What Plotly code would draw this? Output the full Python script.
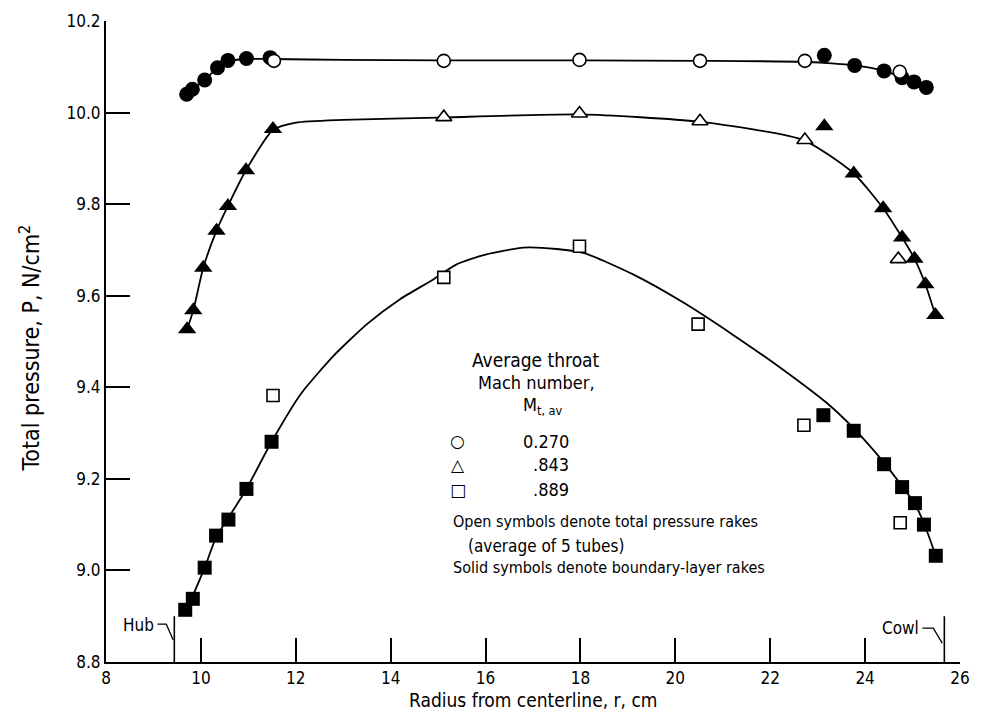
import plotly.graph_objects as go

# ---------------- data ----------------
# M = 0.270 (circles)
circ_open_r = [11.54, 15.12, 17.98, 20.52, 22.73, 24.73]
circ_open_p = [10.113, 10.113, 10.115, 10.113, 10.113, 10.089]
circ_solid_r = [9.70, 9.82, 10.08, 10.35, 10.57, 10.96, 11.46, 23.14, 23.78, 24.40, 24.78, 25.03, 25.29]
circ_solid_p = [10.040, 10.051, 10.071, 10.098, 10.114, 10.118, 10.120, 10.125, 10.103, 10.091, 10.076, 10.067, 10.055]
circ_curve_r = [9.70, 9.82, 10.08, 10.35, 10.57, 10.96, 11.5, 13.0, 15.0, 18.0, 20.5, 22.7, 23.2, 23.78, 24.40, 24.78, 25.03, 25.29]
circ_curve_p = [10.040, 10.051, 10.071, 10.098, 10.112, 10.117, 10.117, 10.115, 10.114, 10.114, 10.113, 10.111, 10.108, 10.103, 10.091, 10.077, 10.067, 10.055]

# M = 0.843 (triangles)
tri_open_r = [15.12, 17.98, 20.52, 22.73, 24.70]
tri_open_p = [9.990, 9.998, 9.981, 9.940, 9.680]
tri_solid_r = [9.71, 9.84, 10.05, 10.33, 10.57, 10.95, 11.52, 23.14, 23.76, 24.38, 24.78, 25.04, 25.27, 25.48]
tri_solid_p = [9.527, 9.568, 9.661, 9.742, 9.796, 9.874, 9.964, 9.970, 9.867, 9.791, 9.727, 9.681, 9.625, 9.558]
tri_curve_r = [9.71, 9.84, 10.05, 10.33, 10.57, 10.95, 11.52, 12.0, 13.0, 15.0, 18.0, 20.5, 22.7, 23.76, 24.38, 24.78, 25.04, 25.27, 25.48]
tri_curve_p = [9.527, 9.568, 9.661, 9.742, 9.796, 9.874, 9.962, 9.978, 9.984, 9.989, 9.996, 9.980, 9.940, 9.867, 9.791, 9.727, 9.681, 9.625, 9.558]

# M = 0.889 (squares)
sq_open_r = [11.52, 15.12, 17.98, 20.48, 22.71, 24.74]
sq_open_p = [9.382, 9.640, 9.708, 9.538, 9.317, 9.104]
sq_solid_r = [9.67, 9.83, 10.08, 10.32, 10.58, 10.96, 11.49, 23.12, 23.76, 24.40, 24.78, 25.05, 25.24, 25.49]
sq_solid_p = [8.914, 8.938, 9.006, 9.076, 9.111, 9.178, 9.281, 9.339, 9.305, 9.232, 9.182, 9.147, 9.100, 9.032]
sq_curve_r = [9.75, 10.08, 10.32, 10.58, 10.96, 11.49, 12.11, 12.80, 13.5, 14.19, 14.89, 15.38, 16.0, 16.8,
              17.5, 18.08, 19.12, 20.17, 21.21, 22.25, 23.2, 23.76, 24.40, 24.78, 25.05, 25.24, 25.49]
sq_curve_p = [8.925, 9.006, 9.072, 9.115, 9.178, 9.281, 9.386, 9.469, 9.538, 9.592, 9.635, 9.668, 9.690, 9.705,
              9.702, 9.693, 9.646, 9.585, 9.515, 9.440, 9.365, 9.310, 9.235, 9.184, 9.145, 9.103, 9.032]

x_ticks = [8, 10, 12, 14, 16, 18, 20, 22, 24, 26]
y_ticks = [8.8, 9.0, 9.2, 9.4, 9.6, 9.8, 10.0, 10.2]
y_tick_text = ["8.8", "9.0", "9.2", "9.4", "9.6", "9.8", "10.0", "10.2"]

legend_values = ["0.270", ".843", ".889"]
legend_symbols = ["○", "△", "□"]

hub_r = 9.44
cowl_r = 25.67

# ---------------- layout helpers ----------------
W, H = 981, 712
L, R, T, B = 106, 11, 18, 50
X0, X1 = 8, 26
Y0, Y1 = 8.8, 10.2


def px2x(px):
    return X0 + (px - L) / (W - L - R) * (X1 - X0)


def px2y(py):
    return Y1 - (py - T) / (H - T - B) * (Y1 - Y0)


FONT = "DejaVu Sans Condensed, Liberation Sans Narrow, Arial Narrow, sans-serif"
BLACK = "#000000"

fig = go.Figure()

# curves
for cr, cp in [(circ_curve_r, circ_curve_p), (tri_curve_r, tri_curve_p), (sq_curve_r, sq_curve_p)]:
    fig.add_trace(go.Scatter(x=cr, y=cp, mode="lines",
                             line=dict(color=BLACK, width=1.8, shape="spline", smoothing=0.6),
                             showlegend=False, hoverinfo="skip"))

# solid symbols
for r_, p_, sym, sz in [(circ_solid_r, circ_solid_p, "circle", 15),
                        (tri_solid_r, tri_solid_p, "triangle-up", 16),
                        (sq_solid_r, sq_solid_p, "square", 14)]:
    fig.add_trace(go.Scatter(x=r_, y=p_, mode="markers",
                             marker=dict(symbol=sym, size=sz, color=BLACK, line=dict(color=BLACK, width=0)),
                             showlegend=False))

# open symbols
for r_, p_, sym, sz in [(circ_open_r, circ_open_p, "circle", 13),
                        (tri_open_r, tri_open_p, "triangle-up", 14),
                        (sq_open_r, sq_open_p, "square", 12)]:
    fig.add_trace(go.Scatter(x=r_, y=p_, mode="markers",
                             marker=dict(symbol=sym, size=sz, color="white", line=dict(color=BLACK, width=1.6)),
                             showlegend=False))

shapes = []
# hub and cowl marks
for xr in (hub_r, cowl_r):
    shapes.append(dict(type="line", xref="x", yref="y", x0=xr, x1=xr, y0=Y0, y1=px2y(616),
                       line=dict(color=BLACK, width=1.6)))
# hooks
shapes.append(dict(type="path", xref="x", yref="y",
                   path=f"M {px2x(158)},{px2y(624)} L {px2x(167)},{px2y(624)} L {px2x(174)},{px2y(640)}",
                   line=dict(color=BLACK, width=1.3)))
shapes.append(dict(type="path", xref="x", yref="y",
                   path=f"M {px2x(932)},{px2y(628)} L {px2x(943)},{px2y(628)} L {px2x(952)},{px2y(643)}",
                   line=dict(color=BLACK, width=1.3)))

annotations = []


def ann(text, px, py, xanchor="center", size=18, textangle=0):
    annotations.append(dict(text=text, x=px2x(px), y=px2y(py), xref="x", yref="y",
                            xanchor=xanchor, yanchor="middle", showarrow=False, textangle=textangle,
                            font=dict(family=FONT, size=size, color=BLACK)))


ann("Hub", 157, 625, xanchor="right", size=17)
ann("Cowl", 931, 628, xanchor="right", size=17)

ann("Average throat", 541, 359, size=19)
ann("Mach number,", 542, 381, size=18)
ann("M<sub>t, av</sub>", 548, 405, size=18)
for i, (s, v) in enumerate(zip(legend_symbols, legend_values)):
    py = [440, 464, 489][i]
    annotations.append(dict(text=s, x=px2x(462), y=px2y(py), xref="x", yref="y",
                            xanchor="center", yanchor="middle", showarrow=False,
                            font=dict(family="DejaVu Sans", size=17, color=BLACK)))
    ann(v, 576, py, xanchor="right", size=18)
ann("Open symbols denote total pressure rakes", 455, 521, xanchor="left", size=16)
ann("(average of 5 tubes)", 470, 545, xanchor="left", size=17)
ann("Solid symbols denote boundary-layer rakes", 455, 567, xanchor="left", size=16)

# axis titles
annotations.append(dict(text="Radius from centerline, r, cm", x=px2x(538), y=0, xref="x", yref="paper",
                        yshift=-38, xanchor="center", yanchor="middle", showarrow=False,
                        font=dict(family=FONT, size=19, color=BLACK)))
annotations.append(dict(text="Total pressure, P, N/cm<sup>2</sup>", x=0, xref="paper", y=px2y(347), yref="y",
                        xshift=-76, xanchor="center", yanchor="middle", showarrow=False, textangle=-90,
                        font=dict(family=FONT, size=23, color=BLACK)))

fig.update_layout(
    width=W, height=H,
    margin=dict(l=L, r=R, t=T, b=B),
    plot_bgcolor="white", paper_bgcolor="white",
    shapes=shapes, annotations=annotations,
    showlegend=False,
    xaxis=dict(range=[X0, X1], tickvals=x_ticks, ticks="inside", ticklen=24, tickwidth=1.6,
               tickcolor=BLACK, showline=True, linecolor=BLACK, linewidth=1.6, showgrid=False,
               zeroline=False, tickfont=dict(family=FONT, size=17, color=BLACK)),
    yaxis=dict(range=[Y0, Y1], tickvals=y_ticks, ticktext=y_tick_text, ticks="inside", ticklen=24,
               tickwidth=1.6, tickcolor=BLACK, showline=True, linecolor=BLACK, linewidth=2,
               showgrid=False, zeroline=False, tickfont=dict(family=FONT, size=17, color=BLACK)),
)

fig.write_html("out.html")
